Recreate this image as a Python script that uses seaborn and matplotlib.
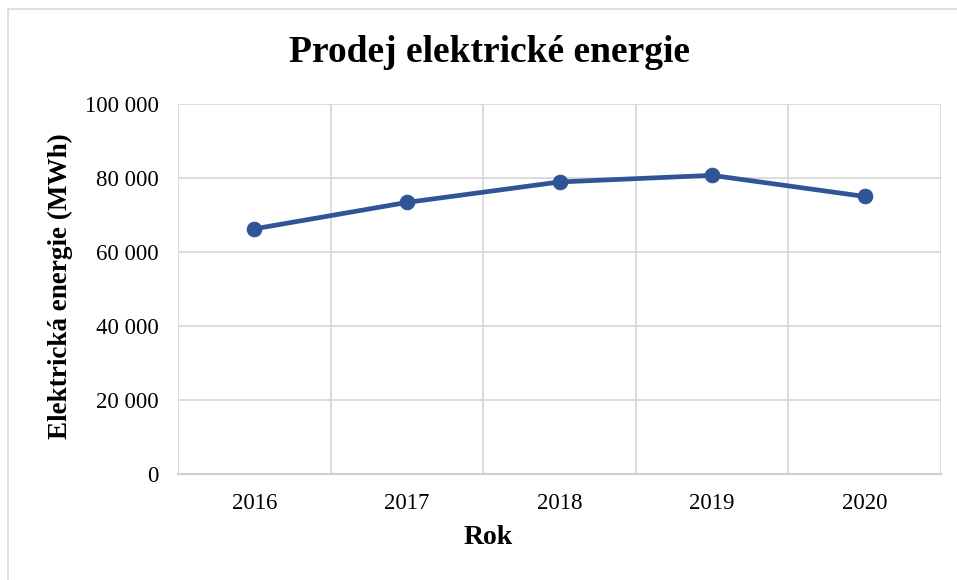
import matplotlib
matplotlib.use("Agg")
import matplotlib.pyplot as plt
import seaborn as sns
import pandas as pd
from matplotlib.ticker import FuncFormatter, FixedLocator
from matplotlib.patches import Rectangle

years = ["2016", "2017", "2018", "2019", "2020"]
energy = [66250, 73400, 78930, 80720, 75010]
y_ticks = [0, 20000, 40000, 60000, 80000, 100000]

title = "Prodej elektrické energie"
xlabel = "Rok"
ylabel = "Elektrická energie (MWh)"

sns.set_theme(style="white")
plt.rcParams['font.family'] = ['Liberation Serif', 'DejaVu Serif']
plt.rcParams['text.color'] = 'black'
plt.rcParams['axes.labelcolor'] = 'black'
plt.rcParams['xtick.color'] = 'black'
plt.rcParams['ytick.color'] = 'black'

W, H = 957, 580
fig = plt.figure(figsize=(W / 100, H / 100), dpi=100)
fig.patch.set_facecolor("white")

# outer chart border (Excel chart area)
fig.patches.append(Rectangle((8 / W, -0.1), 1.2, 1 - 9 / H + 0.1,
                             transform=fig.transFigure, fill=False,
                             edgecolor="#d9d9d9", linewidth=1.2))

left, right, top, bottom = 178, 941, 104, 474
ax = fig.add_axes([left / W, 1 - bottom / H, (right - left) / W, (bottom - top) / H])

df = pd.DataFrame({"pos": range(len(years)), "energy": energy})
sns.lineplot(data=df, x="pos", y="energy", ax=ax, color="#2F5597",
             linewidth=3.4, marker="o", markersize=10.5,
             markeredgecolor="#2F5597", zorder=3)

ax.set_xlim(-0.5, len(years) - 0.5)
ax.set_ylim(0, 100000)
ax.set_xticks(range(len(years)))
ax.set_xticklabels(years)
ax.xaxis.set_minor_locator(FixedLocator([i - 0.5 for i in range(len(years) + 1)]))
ax.set_yticks(y_ticks)
ax.yaxis.set_major_formatter(FuncFormatter(lambda v, p: f"{int(v):,}".replace(",", " ")))

ax.grid(False)
ax.grid(True, axis="y", which="major", color="#d9d9d9", linewidth=1.3)
ax.grid(True, axis="x", which="minor", color="#d9d9d9", linewidth=1.3)
ax.set_axisbelow(True)

for s in ["left", "right", "top"]:
    ax.spines[s].set_visible(False)
ax.spines["bottom"].set_color("#d0d0d0")
ax.spines["bottom"].set_linewidth(1.5)

ax.tick_params(axis="both", which="both", length=0, labelsize=16.5, colors="black")
ax.tick_params(axis="y", pad=14)
ax.tick_params(axis="x", pad=14)

ax.set_xlabel(xlabel, fontsize=20, fontweight="bold", color="black")
ax.set_ylabel(ylabel, fontsize=19.5, fontweight="bold", color="black")
# label positions in axes coordinates (from pixel positions)
ax.xaxis.set_label_coords((488 - left) / (right - left), (bottom - 538) / (bottom - top))
ax.xaxis.label.set_va("center")
ax.yaxis.set_label_coords((60 - left) / (right - left), (bottom - 286) / (bottom - top))
ax.yaxis.label.set_va("center")

fig.text(490 / W, 1 - 53 / H, title, ha="center", va="center",
         fontsize=27, fontweight="bold", color="black")

fig.savefig("out.png", dpi=100)
